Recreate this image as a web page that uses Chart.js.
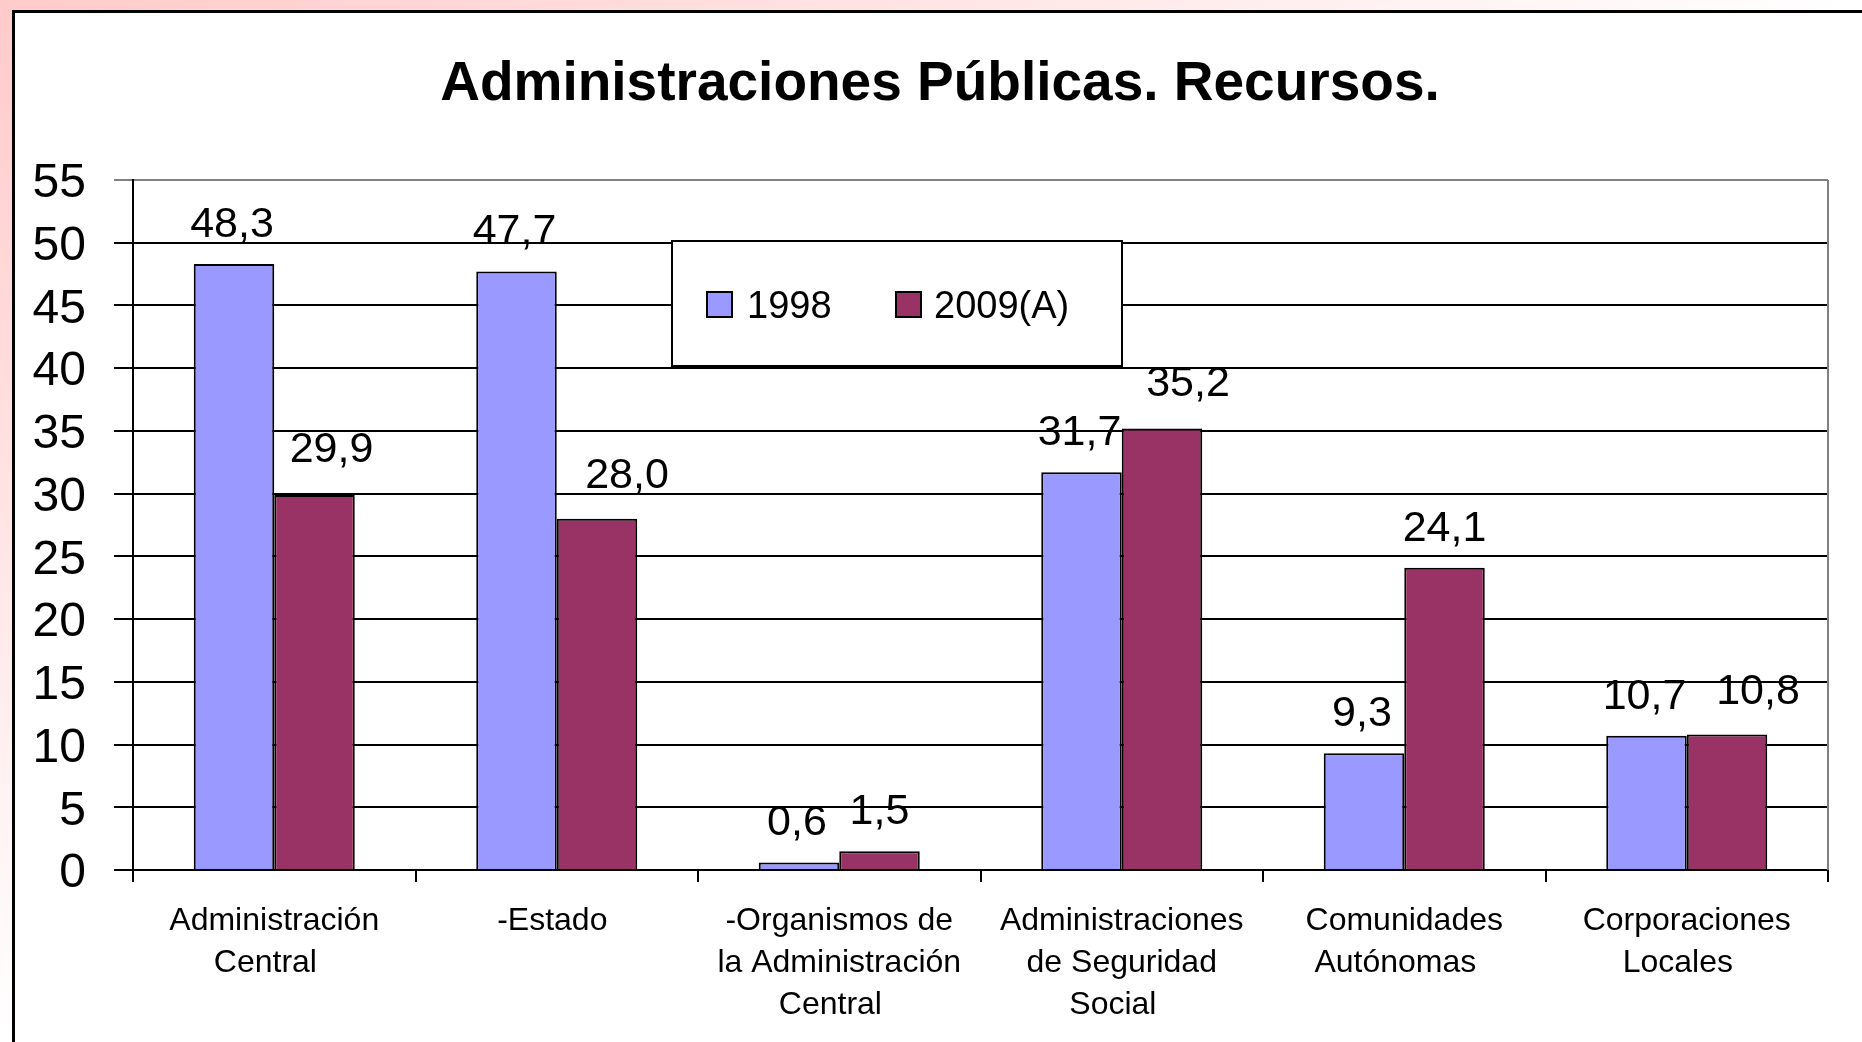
<!DOCTYPE html>
<html>
<head>
<meta charset="utf-8">
<script src="https://cdn.jsdelivr.net/npm/chart.js@4/dist/chart.umd.min.js"></script>
<style>
  html, body { margin: 0; padding: 0; width: 1862px; height: 1042px; overflow: hidden; }
  body { background: linear-gradient(to bottom right, #ffcaca 0%, #ffffff 50%); position: relative; }
  #frame { position: absolute; left: 12px; top: 10px; width: 1900px; height: 1100px; background: #fff;
           border-left: 3px solid #000; border-top: 3px solid #000; }
  #c { position: absolute; left: 0; top: 0; }
</style>
</head>
<body>
<div id="frame"></div>
<canvas id="c" width="1862" height="1042"></canvas>
<script>
const categories = [
  ["Administración", "Central  "],
  ["-Estado "],
  ["-Organismos de", "la Administración", "Central  "],
  ["Administraciones", "de Seguridad", "Social  "],
  ["Comunidades", "Autónomas  "],
  ["Corporaciones", "Locales  "]
];
const seriesNames = ["1998", "2009(A)"];
const values1998 = [48.3, 47.7, 0.6, 31.7, 9.3, 10.7];
const values2009 = [29.9, 28.0, 1.5, 35.2, 24.1, 10.8];
const yTicks = [0, 5, 10, 15, 20, 25, 30, 35, 40, 45, 50, 55];
const titleText = "Administraciones Públicas. Recursos.";

const FONT = "'Liberation Sans', Arial, sans-serif";

// label nudges (style only): [dataset][index] -> [dx, dy]
const labelNudge = [
  [[-2,1],[-2,1],[-2,1],[-2,1],[-2,1],[-2,1]],
  [[17,-5],[30,-3],[0,1],[26,-4],[0,1],[31,-2]]
];

const titleDraw = {
  id: 'titleDraw',
  afterDraw(chart) {
    const ctx = chart.ctx;
    ctx.save();
    ctx.font = "bold 55px " + FONT;
    ctx.fillStyle = "#000";
    ctx.textAlign = "center";
    ctx.textBaseline = "middle";
    ctx.fillText(titleText, 940, 85);
    ctx.restore();
  }
};

const dataLabels = {
  id: 'dataLabels',
  afterDatasetsDraw(chart) {
    const ctx = chart.ctx;
    ctx.save();
    ctx.font = "43px " + FONT;
    ctx.fillStyle = "#000";
    ctx.textAlign = "center";
    ctx.textBaseline = "middle";
    chart.data.datasets.forEach((ds, di) => {
      const meta = chart.getDatasetMeta(di);
      meta.data.forEach((bar, i) => {
        const txt = ds.data[i].toFixed(1).replace('.', ',');
        const n = labelNudge[di][i];
        ctx.fillText(txt, bar.x + n[0], bar.y - 40 + n[1]);
      });
    });
    ctx.restore();
  }
};

const plotBorder = {
  id: 'plotBorder',
  beforeDatasetsDraw(chart) {
    const a = chart.chartArea, ctx = chart.ctx;
    ctx.save();
    ctx.strokeStyle = "#808080";
    ctx.lineWidth = 2;
    ctx.beginPath();
    ctx.moveTo(a.right, a.top);
    ctx.lineTo(a.right, a.bottom);
    ctx.stroke();
    ctx.restore();
  }
};

const boxLegend = {
  id: 'boxLegend',
  afterDatasetsDraw(chart) {
    const ctx = chart.ctx;
    const bx = 672, by = 241, bw = 450, bh = 125;
    ctx.save();
    ctx.fillStyle = "#fff";
    ctx.fillRect(bx, by, bw, bh);
    ctx.strokeStyle = "#000";
    ctx.lineWidth = 2;
    ctx.strokeRect(bx, by, bw, bh);
    const items = [{sx: 707, tx: 747}, {sx: 896, tx: 934}];
    ctx.font = "38px " + FONT;
    ctx.textBaseline = "middle";
    ctx.textAlign = "left";
    chart.data.datasets.forEach((ds, i) => {
      const it = items[i];
      ctx.fillStyle = ds.backgroundColor;
      ctx.fillRect(it.sx, 292, 25, 25);
      ctx.strokeStyle = "#000";
      ctx.lineWidth = 2;
      ctx.strokeRect(it.sx, 292, 25, 25);
      ctx.fillStyle = "#000";
      ctx.fillText(ds.label, it.tx, 308);
    });
    ctx.restore();
  }
};

new Chart(document.getElementById('c'), {
  type: 'bar',
  data: {
    labels: categories,
    datasets: [
      { label: seriesNames[0], data: values1998, backgroundColor: '#9999FF', borderColor: '#000', borderWidth: 2 },
      { label: seriesNames[1], data: values2009, backgroundColor: '#993366', borderColor: '#000', borderWidth: 2 }
    ]
  },
  options: {
    responsive: false,
    animation: false,
    devicePixelRatio: 1,
    layout: { padding: { left: 0, right: 34, top: 180, bottom: 0 } },
    datasets: { bar: { categoryPercentage: 0.57, barPercentage: 1.0 } },
    plugins: {
      legend: { display: false },
      tooltip: { enabled: false },
      title: { display: false }
    },
    scales: {
      x: {
        grid: { display: true, drawOnChartArea: false, drawTicks: true, tickLength: 12, color: '#000', lineWidth: 2, offset: true },
        border: { display: true, color: '#000', width: 2 },
        ticks: { color: '#000', font: { family: FONT, size: 32, lineHeight: 1.31 }, padding: 18, maxRotation: 0, autoSkip: false },
        afterFit(s) { s.height = 172; }
      },
      y: {
        min: 0, max: 55,
        afterBuildTicks(s) { s.ticks = yTicks.map(v => ({ value: v })); },
        grid: {
          color: (c) => (c.tick && c.tick.value === 55) ? '#808080' : '#000',
          lineWidth: 2, tickLength: 19, drawTicks: true
        },
        border: { display: true, color: '#000', width: 2 },
        ticks: { color: '#000', font: { family: FONT, size: 48 }, padding: 28, labelOffset: 4 },
        afterFit(s) { s.width = 133; }
      }
    }
  },
  plugins: [plotBorder, dataLabels, boxLegend, titleDraw]
});
</script>
</body>
</html>
